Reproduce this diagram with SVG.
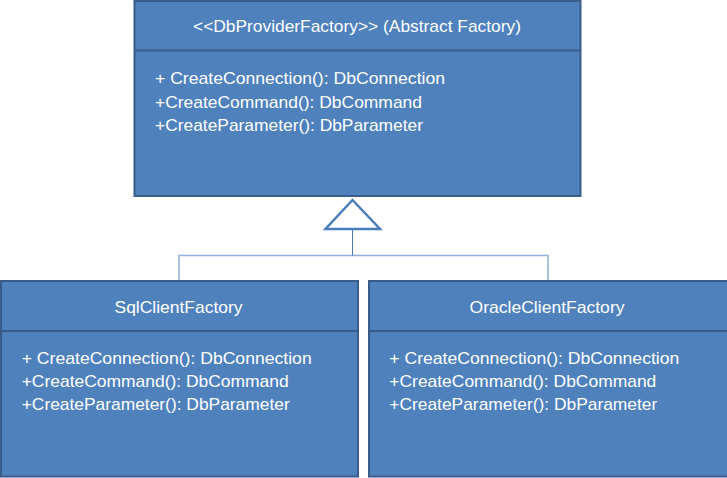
<svg xmlns="http://www.w3.org/2000/svg" width="727" height="478" viewBox="0 0 727 478">
<style>
.box{fill:#4f81bd;stroke:#385d8a;stroke-width:2}
.div{stroke:#385d8a;stroke-width:2}
.t{font-family:"Liberation Sans",Arial,sans-serif;font-size:17px;fill:#ffffff}
.c{text-anchor:middle}
.conn{fill:none;stroke:#4a7ebb;stroke-width:1}
.light{fill:none;stroke:#8eb0da;stroke-width:1.5}
</style>
<rect width="727" height="478" fill="#ffffff"/>
<g id="connectors">
<polyline class="light" points="179,281 179,255.5 548,255.5 548,281"/>
<line class="conn" x1="352.5" y1="229" x2="352.5" y2="255.5"/>
<polygon points="352.5,200 325.5,229 380,229" fill="#ffffff" stroke="#4a7ebb" stroke-width="2.5" stroke-linejoin="miter"/>
</g>
<g id="DbProviderFactory">
<rect class="box" x="134.5" y="1" width="446" height="195"/>
<line class="div" x1="134.5" y1="50.5" x2="580.5" y2="50.5"/>
<text class="t c" x="357" y="31.5" textLength="328" lengthAdjust="spacingAndGlyphs">&lt;&lt;DbProviderFactory&gt;&gt; (Abstract Factory)</text>
<text class="t" x="155" y="84.3" textLength="290" lengthAdjust="spacingAndGlyphs">+ CreateConnection(): DbConnection</text>
<text class="t" x="155" y="107.5" textLength="267" lengthAdjust="spacingAndGlyphs">+CreateCommand(): DbCommand</text>
<text class="t" x="155" y="130.7" textLength="268" lengthAdjust="spacingAndGlyphs">+CreateParameter(): DbParameter</text>
</g>
<g id="SqlClientFactory">
<rect class="box" x="1" y="281" width="357" height="195.5"/>
<line class="div" x1="1" y1="331" x2="358" y2="331"/>
<text class="t c" x="178.5" y="312.5" textLength="128" lengthAdjust="spacingAndGlyphs">SqlClientFactory</text>
<text class="t" x="21.7" y="364.3" textLength="290" lengthAdjust="spacingAndGlyphs">+ CreateConnection(): DbConnection</text>
<text class="t" x="21.7" y="387.3" textLength="267" lengthAdjust="spacingAndGlyphs">+CreateCommand(): DbCommand</text>
<text class="t" x="21.7" y="410.3" textLength="268" lengthAdjust="spacingAndGlyphs">+CreateParameter(): DbParameter</text>
</g>
<g id="OracleClientFactory">
<rect class="box" x="369" y="281" width="359" height="195.5"/>
<line class="div" x1="369" y1="331" x2="728" y2="331"/>
<text class="t c" x="547" y="312.5" textLength="155" lengthAdjust="spacingAndGlyphs">OracleClientFactory</text>
<text class="t" x="389.3" y="364.3" textLength="290" lengthAdjust="spacingAndGlyphs">+ CreateConnection(): DbConnection</text>
<text class="t" x="389.3" y="387.3" textLength="267" lengthAdjust="spacingAndGlyphs">+CreateCommand(): DbCommand</text>
<text class="t" x="389.3" y="410.3" textLength="268" lengthAdjust="spacingAndGlyphs">+CreateParameter(): DbParameter</text>
</g>
</svg>
